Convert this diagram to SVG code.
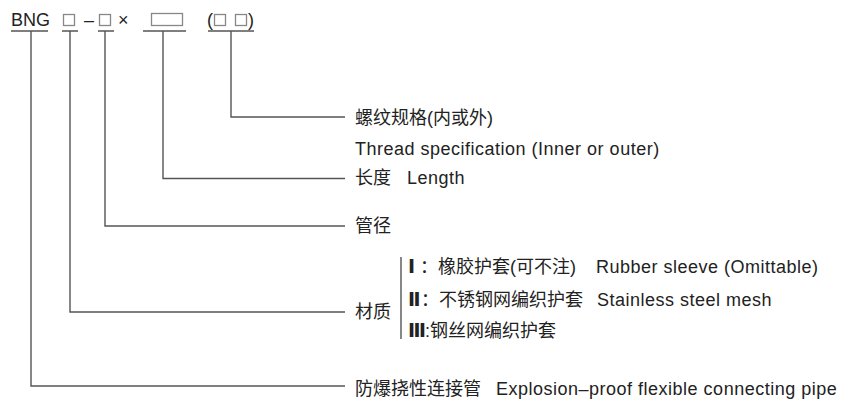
<svg xmlns="http://www.w3.org/2000/svg" width="853" height="400" viewBox="0 0 853 400">
<style>
text{font-family:"Liberation Sans","Noto Sans CJK SC",sans-serif;font-size:18px;fill:#222}
.en{letter-spacing:0.5px}
.num{font-family:"DejaVu Sans","Liberation Sans",sans-serif;font-size:19px;font-weight:bold}
.ln{stroke:#555;stroke-width:1.4;fill:none}
.box{stroke:#888;stroke-width:1.3;fill:none}
</style>
<rect width="853" height="400" fill="#fff"/>
<g id="code">
<text x="11" y="26">BNG</text>
<rect class="box" x="63.5" y="14.5" width="11" height="11"/>
<text x="84" y="26">–</text>
<rect class="box" x="99.5" y="14.5" width="11" height="11"/>
<text x="118" y="26">×</text>
<rect class="box" x="151.5" y="13.5" width="31" height="12"/>
<text x="207" y="26">(</text>
<rect class="box" x="214.5" y="14.5" width="11" height="11"/>
<rect class="box" x="235.5" y="14.5" width="11" height="11"/>
<text x="248" y="26">)</text>
</g>
<g id="connectors">
<path class="ln" d="M11 31H48M31 31V386H345"/>
<path class="ln" d="M62 31H78M70 31V312H345"/>
<path class="ln" d="M98 31H114M105 31V226H345"/>
<path class="ln" d="M143 31H186M163 31V178.5H345"/>
<path class="ln" d="M208 31H254M231 31V117H345"/>
<path class="ln" d="M401 257V339"/>
</g>
<g id="thread">
<text x="355" y="124">螺纹规格(内或外)</text>
<text class="en" x="355" y="155">Thread specification (Inner or outer)</text>
</g>
<g id="length">
<text x="355" y="184">长度<tspan class="en" x="407">Length</tspan></text>
</g>
<g id="diameter">
<text x="355" y="232">管径</text>
</g>
<g id="material">
<text x="355" y="318">材质</text>
<text class="num" x="408" y="273">Ⅰ</text><text x="420" y="273">：橡胶护套(可不注)<tspan class="en" x="596">Rubber sleeve (Omittable)</tspan></text>
<text class="num" x="408" y="306">Ⅱ</text><text x="421" y="306">：不锈钢网编织护套<tspan class="en" x="597">Stainless steel mesh</tspan></text>
<text class="num" x="408" y="337">Ⅲ</text><text x="425" y="337">:钢丝网编织护套</text>
</g>
<g id="product">
<text x="355" y="395">防爆挠性连接管<tspan class="en" x="496">Explosion–proof flexible connecting pipe</tspan></text>
</g>
</svg>
